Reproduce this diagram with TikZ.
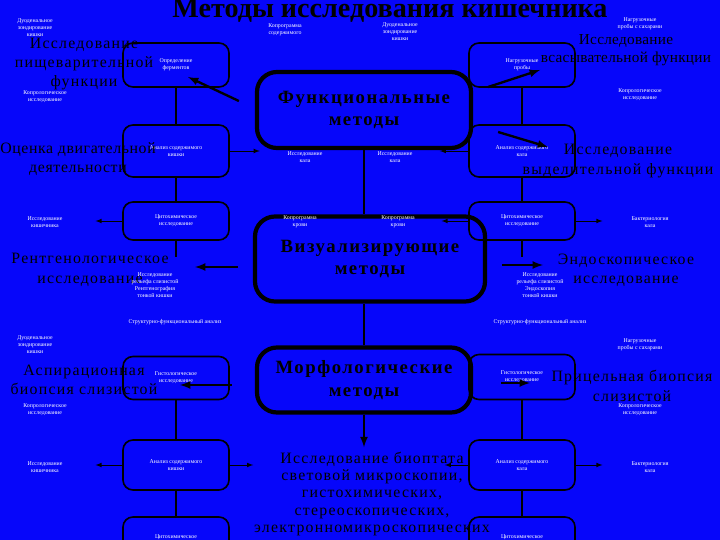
\documentclass[tikz,border=0pt]{standalone}
\usepackage{fontspec}
\setmainfont{Liberation Serif}
\definecolor{bgblue}{RGB}{6,6,250}

\begin{document}
\begin{tikzpicture}[x=0.03cm,y=-0.03cm]
            \tikzset{sbox/.style = {draw=black, rounded corners=0.3cm, line width=1.4pt, minimum width=3.18cm, inner sep=1pt, text=white, font=\fontsize{5}{6}\selectfont, align=center}}
            \tikzset{bbox/.style = {draw=black, rounded corners=0.6cm, line width=3.6pt, inner sep=2pt, font=\fontsize{16}{19}\selectfont\bfseries\addfontfeatures{LetterSpace=8}, align=center}}
            \tikzset{lbl/.style = {font=\fontsize{13.5}{16.5}\selectfont\addfontfeatures{LetterSpace=8}, align=center, inner sep=0pt}}
            \tikzset{tinytext/.style = {text=white, font=\fontsize{5}{6}\selectfont, align=center, inner sep=0pt}}
            \tikzset{arr/.style = {-latex, line width=2pt}}
            \tikzset{sarr/.style = {-latex, line width=0.8pt}}
            \tikzset{link/.style = {line width=1.4pt}}

            \fill[bgblue] (0,0) rectangle (720,540);
            \useasboundingbox (0,0) rectangle (720,540);

            \node[font=\fontsize{24}{26}\selectfont\bfseries, inner sep=0pt] (title) at (390,11) {Методы исследования кишечника};

            \node[bbox, minimum width=6.42cm, minimum height=2.28cm] (func) at (364,110) {Функциональные\\методы};
            \node[bbox, minimum width=6.9cm, minimum height=2.55cm] (vis) at (370,259) {Визуализирующие\\методы};
            \node[bbox, minimum width=6.42cm, minimum height=1.95cm] (morph) at (364,380) {Морфологические\\методы};

            \node[sbox, minimum height=1.32cm] (lA) at (176,65) {Определение\\ферментов};
            \node[sbox, minimum height=1.56cm] (lB) at (176,151) {Анализ содержимого\\кишки};
            \node[sbox, minimum height=1.14cm] (lC) at (176,221) {Цитохимическое\\исследование};
            \node[sbox, minimum height=1.29cm] (lD) at (176,378) {Гистологическое\\исследование};
            \node[sbox, minimum height=1.5cm] (lE) at (176,465) {Анализ содержимого\\кишки};
            \node[sbox, minimum height=1.44cm] (lF) at (176,541) {Цитохимическое\\исследование};

            \node[sbox, minimum height=1.32cm] (rA) at (522,65) {Нагрузочные\\пробы};
            \node[sbox, minimum height=1.56cm] (rB) at (522,151) {Анализ содержимого\\кала};
            \node[sbox, minimum height=1.14cm] (rC) at (522,221) {Цитохимическое\\исследование};
            \node[sbox, minimum height=1.35cm] (rD) at (522,377) {Гистологическое\\исследование};
            \node[sbox, minimum height=1.5cm] (rE) at (522,465) {Анализ содержимого\\кала};
            \node[sbox, minimum height=1.44cm] (rF) at (522,541) {Цитохимическое\\исследование};

            \coordinate (lstub) at (176,257);
            \coordinate (rstub) at (522,257);
            \draw[link] (lA) -- (lB);
            \draw[link] (lB) -- (lC);
            \draw[link] (lC) -- (lstub);
            \draw[link] (lD) -- (lE);
            \draw[link] (lE) -- (lF);
            \draw[link] (rA) -- (rB);
            \draw[link] (rB) -- (rC);
            \draw[link] (rC) -- (rstub);
            \draw[link] (rD) -- (rE);
            \draw[link] (rE) -- (rF);

            \draw[link] (func.south) -- (func.south |- vis.north);
            \draw[link] (morph.north) -- (morph.north |- vis.south);

            \node[lbl] (digest) at (84,64) {Исследование\\пищеварительной\\функции};
            \node[lbl, font=\fontsize{13}{15.5}\selectfont\addfontfeatures{LetterSpace=2}] (absorb) at (626,50) {Исследование\\всасывательной функции};
            \node[lbl, font=\fontsize{13.5}{16.5}\selectfont\addfontfeatures{LetterSpace=4}] (motor) at (78,159) {Оценка двигательной\\деятельности};
            \node[lbl] (excret) at (618,161) {Исследование\\выделительной функции};
            \node[lbl] (xray) at (90,270) {Рентгенологическое\\исследование};
            \node[lbl] (endo) at (626,270) {Эндоскопическое\\исследование};
            \node[lbl] (asp) at (84,380) {Аспирационная\\биопсия слизистой};
            \node[lbl] (aim) at (632,386) {Прицельная биопсия\\слизистой};
            \node[lbl, font=\fontsize{13.5}{14.6}\selectfont\addfontfeatures{LetterSpace=8}] (bio) at (372,494) {Исследование биоптата\\световой микроскопии,\\гистохимических,\\стереоскопических,\\электронномикроскопических};

            \coordinate (t1) at (188,77);
            \coordinate (t2) at (540,70);
            \coordinate (t3) at (548,147);
            \coordinate (t4) at (195,267);
            \coordinate (t5) at (543,265);
            \coordinate (t6) at (180,385);
            \coordinate (t7) at (530,383);
            \draw[arr] ([shift={(-16,-9)}]func.west) -- (t1);
            \draw[arr] ([shift={(15,-23)}]func.east) -- (t2);
            \draw[arr] ([shift={(25,22)}]func.east) -- (t3);
            \draw[arr] ([shift={(-15,8)}]vis.west) -- (t4);
            \draw[arr] ([shift={(15,6)}]vis.east) -- (t5);
            \draw[arr] ([shift={(-23,5)}]morph.west) -- (t6);
            \draw[arr] ([shift={(28,3)}]morph.east) -- (t7);
            \draw[arr] (morph.south) -- ([yshift=0.15cm]morph.south |- bio.north);

            \node[tinytext] (lBr) at (305,157) {Исследование\\кала};
            \node[tinytext] (rBl) at (395,157) {Исследование\\кала};
            \node[tinytext] (lCl) at (45,222) {Исследование\\кишечника};
            \node[tinytext] (lCr) at (300,222) {Копрограмма\\крови};
            \node[tinytext] (rCl) at (398,222) {Копрограмма\\крови};
            \node[tinytext] (rCr) at (650,222) {Бактериология\\кала};
            \node[tinytext] (lEl) at (45,467) {Исследование\\кишечника};
            \node[tinytext] (rEr) at (650,467) {Бактериология\\кала};
            \node[tinytext] (lmid) at (175,322) {Структурно-функциональный анализ};
            \node[tinytext] (rmid) at (540,322) {Структурно-функциональный анализ};
            \node[tinytext] (lAtl) at (35,28) {Дуоденальное\\зондирование\\кишки};
            \node[tinytext] (lAbl) at (45,97) {Копрологическое\\исследование};
            \node[tinytext] (lAtr) at (285,30) {Копрограмма\\содержимого};
            \node[tinytext] (rAtl) at (400,32) {Дуоденальное\\зондирование\\кишки};
            \node[tinytext] (rAtr) at (640,24) {Нагрузочные\\пробы с сахарами};
            \node[tinytext] (rAbr) at (640,95) {Копрологическое\\исследование};
            \node[tinytext] (lDtl) at (35,345) {Дуоденальное\\зондирование\\кишки};
            \node[tinytext] (rDtr) at (640,345) {Нагрузочные\\пробы с сахарами};
            \node[tinytext] (lDbl) at (45,410) {Копрологическое\\исследование};
            \node[tinytext] (rDbr) at (640,410) {Копрологическое\\исследование};
            \node[tinytext] (visl) at (155,285) {Исследование\\рельефа слизистой\\Рентгенография\\тонкой кишки};
            \node[tinytext] (visr) at (540,285) {Исследование\\рельефа слизистой\\Эндоскопия\\тонкой кишки};

            \draw[sarr] (lB.east) -- ([xshift=0.9cm]lB.east);
            \draw[sarr] (rB.west) -- ([xshift=-0.85cm]rB.west);
            \draw[sarr] (lC.west) -- ([xshift=-0.8cm]lC.west);
            \draw[sarr] (rC.west) -- ([xshift=-0.8cm]rC.west);
            \draw[sarr] (rC.east) -- ([xshift=0.8cm]rC.east);
            \draw[sarr] (lE.west) -- ([xshift=-0.8cm]lE.west);
            \draw[sarr] (lE.east) -- ([xshift=0.7cm]lE.east);
            \draw[sarr] (rE.west) -- ([xshift=-0.7cm]rE.west);
            \draw[sarr] (rE.east) -- ([xshift=0.8cm]rE.east);
\end{tikzpicture}
\end{document}
